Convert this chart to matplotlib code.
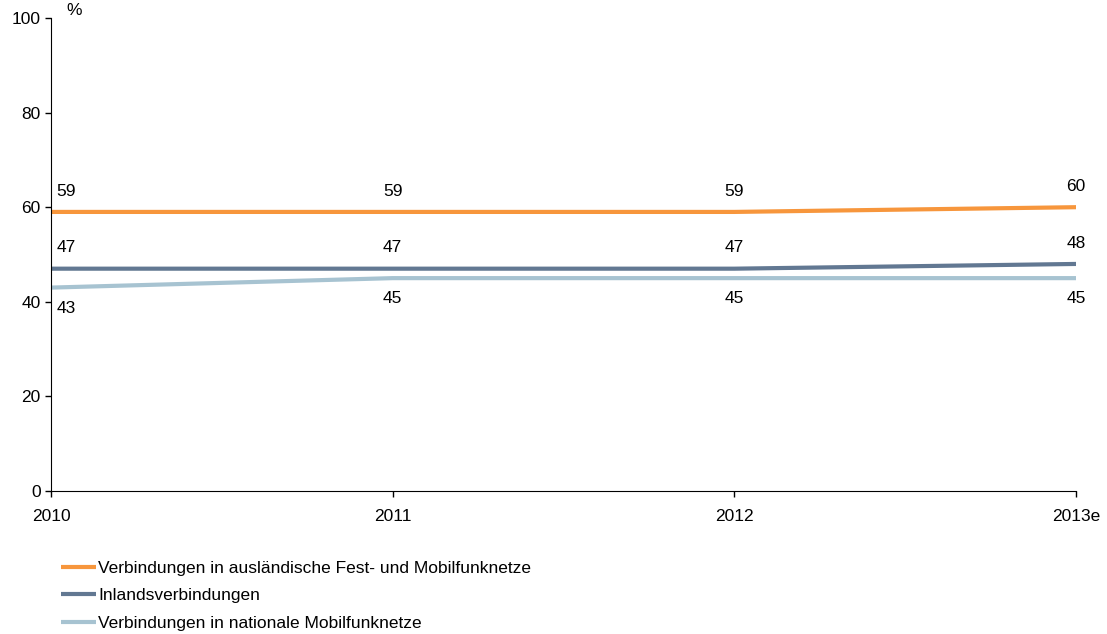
import matplotlib.pyplot as plt

plt.rcParams['font.family'] = ['Liberation Sans', 'DejaVu Sans']
plt.rcParams['font.size'] = 12.5

years = ['2010', '2011', '2012', '2013e']
ausland = [59, 59, 59, 60]
inland = [47, 47, 47, 48]
mobil = [43, 45, 45, 45]

names = ['Verbindungen in ausländische Fest- und Mobilfunknetze',
         'Inlandsverbindungen',
         'Verbindungen in nationale Mobilfunknetze']
colors = ['#F7963C', '#627892', '#A7C3D1']

fig = plt.figure(figsize=(11.07, 6.34), dpi=100)
ax = fig.add_axes([0.0461, 0.2256, 0.9260, 0.7460])

x = list(range(len(years)))
series = [ausland, inland, mobil]
for vals, name, col in zip(series, names, colors):
    ax.plot(x, vals, color=col, lw=3, label=name, solid_capstyle='butt')

# value labels: top two series above the line, the last one below
for vals, dy in [(ausland, 15), (inland, 15), (mobil, -15)]:
    for i, v in enumerate(vals):
        ha = 'left' if i == 0 else 'center'
        dx = 4 if i == 0 else 0
        ax.annotate(str(v), (i, v), xytext=(dx, dy), textcoords='offset points',
                    ha=ha, va='center')

ax.set_xlim(0, 3)
ax.set_ylim(0, 100)
ax.set_xticks(x)
ax.set_xticklabels(years)
ax.set_yticks(range(0, 101, 20))
ax.tick_params(axis='both', direction='out', length=4, width=1, labelsize=12.5)
ax.tick_params(axis='x', pad=9)
for s in ['top', 'right']:
    ax.spines[s].set_visible(False)
ax.text(0.015, 1.0, '%', transform=ax.transAxes, va='bottom')

fig.legend(loc='upper left', bbox_to_anchor=(0.049, 0.127), frameon=False,
           handlelength=2.0, handletextpad=0.12, labelspacing=0.72,
           borderaxespad=0)

fig.savefig('out.png', dpi=100)
